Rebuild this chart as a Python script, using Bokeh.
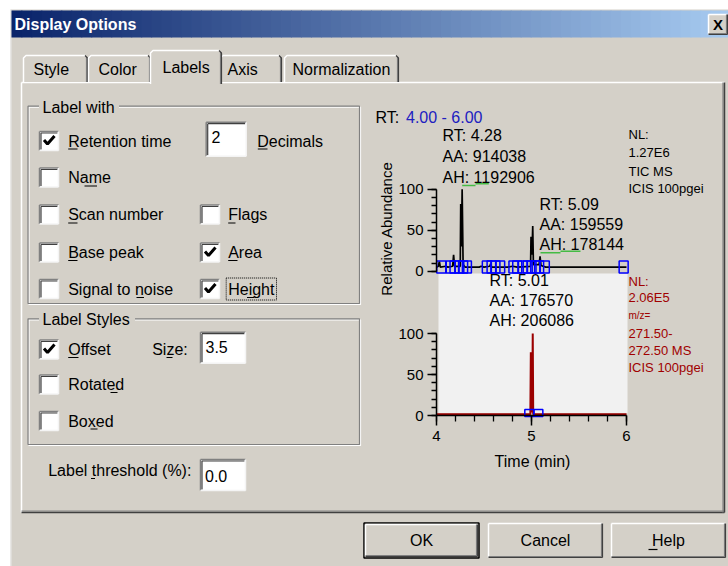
from math import pi
from bokeh.plotting import figure
from bokeh.models import Range1d, LinearAxis, FixedTicker
from bokeh.core.properties import value
from bokeh.embed import file_html
from bokeh.resources import INLINE

# ---------------- chromatogram data ----------------
top_time = [4.00, 4.02, 4.03, 4.04, 4.10, 4.12, 4.17, 4.18, 4.19, 4.25,
            4.255, 4.262, 4.27, 4.28, 4.30, 4.45, 4.47, 4.50, 4.56, 4.57,
            4.58, 4.75, 4.80, 4.85, 4.99, 4.995, 5.005, 5.013, 5.02, 5.08,
            5.09, 5.10, 5.15, 5.50, 6.00]
top_abund = [5, 6, 12, 5, 6, 5, 6, 20, 6, 6,
             82, 30, 100, 8, 5, 5, 6, 5, 6, 9,
             5, 5, 6, 5, 6, 42, 20, 55, 8, 8,
             18, 7, 5, 5, 5]
bottom_time = [4.00, 4.988, 4.993, 4.998, 5.008, 5.013, 5.018, 6.00]
bottom_abund = [1.5, 1.5, 77, 5, 5, 100, 1.5, 1.5]

top_marker_time = [4.05, 4.15, 4.19, 4.24, 4.28, 4.32, 4.53, 4.58, 4.62, 4.67,
                   4.81, 4.85, 4.91, 4.96, 5.00, 5.04, 5.08, 5.14, 5.97]
top_marker_abund = [5, 5, 5, 5, 5, 5, 5, 5, 5, 5, 5, 5, 5, 5, 5, 5, 5, 5, 5]
bottom_marker_time = [4.977, 5.072]
bottom_marker_abund = [3, 3]

time_ticks = [4, 5, 6]
time_minor = [4.0, 4.2, 4.4, 4.6, 4.8, 5.0, 5.2, 5.4, 5.6, 5.8, 6.0]
abund_ticks = [0, 50, 100]
abund_minor = [0, 10, 20, 30, 40, 50, 60, 70, 80, 90, 100]

range_label = ["RT:", "4.00 - 6.00"]
peak1_label = ["RT: 4.28", "AA: 914038", "AH: 1192906"]
peak2_label = ["RT: 5.09", "AA: 159559", "AH: 178144"]
peak3_label = ["RT: 5.01", "AA: 176570", "AH: 206086"]
top_info = ["NL:", "1.27E6", "TIC MS", "ICIS 100pgei"]
bottom_info = ["NL:", "2.06E5", "m/z=", "271.50-", "272.50 MS", "ICIS 100pgei"]
y_title = "Relative Abundance"
x_title = "Time (min)"

tab_names = ["Style", "Color", "Labels", "Axis", "Normalization"]
label_with_left = [("Retention time", True), ("Name", False), ("Scan number", False),
                   ("Base peak", False), ("Signal to noise", False)]
label_with_right = [("Flags", False), ("Area", True), ("Height", True)]
label_styles = [("Offset", True), ("Rotated", False), ("Boxed", False)]
decimals_value = "2"
size_value = "3.5"
threshold_value = "0.0"
buttons = ["OK", "Cancel", "Help"]

# ---------------- styles ----------------
BG = "#D4D0C8"
DARK = "#808080"
DDARK = "#404040"
WHITE = "#FFFFFF"
FONT = "Liberation Sans"

W, H = 728, 566
X0, Y0 = 0, 0
p = figure(width=W, height=H, x_range=Range1d(X0, X0 + W), y_range=Range1d(Y0 + H, Y0),
           x_axis_type=None, y_axis_type=None, output_backend="svg", toolbar_location=None,
           min_border=0, outline_line_color=None,
           background_fill_color="white", border_fill_color="white")


def span_range(v0, px0, v1, px1, lo, hi):
    k = (px1 - px0) / (v1 - v0)
    return Range1d(start=v0 + (lo - px0) / k, end=v0 + (hi - px0) / k)


p.extra_x_ranges = {"t": span_range(4, 436, 6, 626, X0, X0 + W)}
p.extra_y_ranges = {"a1": span_range(0, 270.7, 100, 188.7, Y0 + H, Y0),
                    "a2": span_range(0, 415, 100, 333, Y0 + H, Y0)}


def box(x0, y0, x1, y1, fill, line=None, lw=1, dash="solid"):
    p.quad(left=[x0], right=[x1], top=[y0], bottom=[y1], fill_color=fill,
           line_color=line, line_width=lw, line_dash=dash)


def seg(x0, y0, x1, y1, color, lw=1):
    p.segment(x0=[x0], y0=[y0], x1=[x1], y1=[y1], line_color=color, line_width=lw)


def txt(x, y, s, size="16px", color="black", align="left", bold=False, angle=0.0, font=FONT):
    p.text(x=[x], y=[y], text=[s], text_font=value(font), text_font_size=size,
           text_color=color, text_align=align, text_baseline="middle",
           text_font_style="bold" if bold else "normal", angle=angle)


def raised(x0, y0, x1, y1):
    box(x0, y0, x1, y1, BG)
    seg(x0, y0, x1, y0, WHITE, 1.5)
    seg(x0, y0, x0, y1, WHITE, 1.5)
    seg(x0, y1 - 1, x1, y1 - 1, DARK, 1.2)
    seg(x1 - 1, y0, x1 - 1, y1, DARK, 1.2)
    seg(x0, y1, x1, y1, DDARK, 1.2)
    seg(x1, y0, x1, y1, DDARK, 1.2)


def sunken(x0, y0, x1, y1):
    box(x0, y0, x1, y1, WHITE)
    seg(x0, y0, x1, y0, DARK, 1.5)
    seg(x0, y0, x0, y1, DARK, 1.5)
    seg(x0 + 1.5, y0 + 1.5, x1 - 1, y0 + 1.5, DDARK, 1.2)
    seg(x0 + 1.5, y0 + 1.5, x0 + 1.5, y1 - 1, DDARK, 1.2)
    seg(x0, y1, x1, y1, "#F4F4F4", 1.5)
    seg(x1, y0, x1, y1, "#F4F4F4", 1.5)


def checkbox(x0, yc, checked):
    sunken(x0, yc - 9.5, x0 + 19, yc + 9.5)
    if checked:
        p.line([x0 + 4.5, x0 + 8, x0 + 15], [yc - 1, yc + 3, yc - 5], line_color="black",
               line_width=3)


def groupbox(x0, y0, x1, y1, title, tw):
    p.quad(left=[x0 + 1], right=[x1 + 1], top=[y0 + 1], bottom=[y1 + 1], fill_color=None,
           line_color=WHITE, line_width=1.2)
    p.quad(left=[x0], right=[x1], top=[y0], bottom=[y1], fill_color=None,
           line_color=DARK, line_width=1.2)
    box(x0 + 11, y0 - 7, x0 + 11 + tw, y0 + 7, BG)
    txt(x0 + 14.5, y0 + 1, title)


def underline(x0, x1, y):
    seg(x0, y, x1, y, "black", 1.2)


# ---------------- dialog chrome ----------------
box(10, 9, 740, 580, BG)
seg(10.5, 9, 10.5, 580, "#E8E8E8", 1)
n = 72
c0, c1 = (10, 36, 106), (166, 202, 240)
gx = [11 + (730 - 11) * i / n for i in range(n + 1)]
gcols = ["#%02x%02x%02x" % tuple(int(round(a + (b - a) * i / (n - 1))) for a, b in zip(c0, c1))
         for i in range(n)]
p.quad(left=gx[:-1], right=[g + 0.8 for g in gx[1:]], top=[10] * n, bottom=[37] * n,
       fill_color=gcols, line_color=None)
txt(14, 24, "Display Options", size="16px", color="white", bold=True)
raised(708, 14, 727, 34)
txt(717.5, 24, "X", size="15px", bold=True, align="center")

# tab panel
seg(21, 82, 724, 82, WHITE, 1.5)
seg(21, 82, 21, 512, WHITE, 1.5)
seg(21, 510.5, 724, 510.5, DARK, 1.2)
seg(21, 512, 724, 512, DDARK, 1.5)
seg(722.5, 82, 722.5, 512, DARK, 1.2)
seg(724, 82, 724, 512, DDARK, 1.5)


def tab(x0, x1, top, bottom, label, lx, ly):
    box(x0, top, x1, bottom, BG)
    p.line([x0, x0, x0 + 2.5, x1 - 2.5], [bottom, top + 2.5, top, top], line_color=WHITE,
           line_width=1.5)
    p.line([x1 - 1, x1 - 1], [top + 1.5, bottom], line_color=DARK, line_width=1.2)
    p.line([x1 - 2.5, x1, x1], [top, top + 2.5, bottom], line_color=DDARK, line_width=1.2)
    txt(lx, ly, label)


tab(23, 87, 55, 81.5, tab_names[0], 33, 69)
tab(88, 150, 55, 81.5, tab_names[1], 98, 69)
tab(220, 281, 55, 81.5, tab_names[3], 227, 69)
tab(284, 398, 55, 81.5, tab_names[4], 292, 69)
tab(150, 221, 50, 83.5, tab_names[2], 162, 66.5)

# Label with group
groupbox(27.5, 105.7, 359, 303, "Label with", 80)
left_rows = [140.5, 177, 214, 252, 288.5]
for (name, chk), yc in zip(label_with_left, left_rows):
    checkbox(39, yc, chk)
    txt(67.7, yc, name)
for (name, chk), yc in zip(label_with_right, left_rows[2:]):
    checkbox(200, yc, chk)
    txt(227.7, yc, name)
p.quad(left=[225.7], right=[276], top=[277.5], bottom=[299.5], fill_color=None,
       line_color="black", line_width=1, line_dash="1 1")
sunken(205.7, 121.7, 245.7, 155.7)
txt(211, 136.5, decimals_value)
txt(256.7, 140.5, "Decimals")

# Label Styles group
groupbox(27.5, 318.3, 359, 444, "Label Styles", 96)
style_rows = [349, 384, 420.5]
for (name, chk), yc in zip(label_styles, style_rows):
    checkbox(39, yc, chk)
    txt(67.7, yc, name)
txt(151.7, 349, "Size:")
sunken(200, 331.7, 245, 362.7)
txt(205, 346.5, size_value)

txt(47.7, 470, "Label threshold (%):")
sunken(200, 459, 245, 490)
txt(204.5, 475, threshold_value)

# mnemonic underlines
for x0, x1, y in [(67.7, 77, 148.5), (84, 96.5, 185.5), (67.7, 77, 222.5), (67.7, 77, 260),
                  (136, 143.5, 297), (257.3, 267, 148.5), (227.7, 235, 222.5),
                  (227.7, 237, 260), (246.5, 254, 297), (67.7, 78, 357), (166, 172, 357),
                  (110, 117, 392), (90, 97, 428.5), (90.5, 94.5, 478)]:
    underline(x0, x1, y)

# buttons
box(363.5, 522.5, 478.5, 557.5, None, "black", 1.5)
raised(365, 524, 477, 556)
raised(488, 523, 602, 557)
raised(611, 523, 725, 557)
txt(421, 540, buttons[0], align="center")
txt(545, 540, buttons[1], align="center")
txt(668, 540, buttons[2], align="center")
underline(648, 657, 549)

# ---------------- chromatogram ----------------
box(438, 273, 627, 413, "#F1F1F1")

p.line(top_time, top_abund, x_range_name="t", y_range_name="a1", line_color="black",
       line_width=1.7)
p.rect(x=top_marker_time, y=top_marker_abund, width=9, height=12, width_units="screen",
       height_units="screen", x_range_name="t", y_range_name="a1", fill_color=None,
       line_color="#0000FF", line_width=1.5)

p.line(bottom_time, bottom_abund, x_range_name="t", y_range_name="a2", line_color="#9B0000",
       line_width=2.0)
p.rect(x=bottom_marker_time, y=bottom_marker_abund, width=9, height=7, width_units="screen",
       height_units="screen", x_range_name="t", y_range_name="a2", fill_color=None,
       line_color="#0000FF", line_width=1.5)


def style_axis(ax, tick_out, minor_out):
    ax.axis_line_color = "black"
    ax.axis_line_width = 1.5
    ax.major_tick_line_color = "black"
    ax.major_tick_line_width = 1.5
    ax.minor_tick_line_color = "black"
    ax.minor_tick_line_width = 1.3
    ax.major_tick_in = 0
    ax.major_tick_out = tick_out
    ax.minor_tick_in = 0
    ax.minor_tick_out = minor_out
    ax.major_label_text_font = FONT
    ax.major_label_text_font_size = "15px"
    ax.major_label_text_color = "black"
    ax.major_label_standoff = 4


ay1 = LinearAxis(x_range_name="t", y_range_name="a1", fixed_location=4, bounds=(0, 100),
                 ticker=FixedTicker(ticks=abund_ticks, minor_ticks=abund_minor))
style_axis(ay1, 9, 5)
p.add_layout(ay1, "left")
ay2 = LinearAxis(x_range_name="t", y_range_name="a2", fixed_location=4, bounds=(0, 100),
                 ticker=FixedTicker(ticks=abund_ticks, minor_ticks=abund_minor))
style_axis(ay2, 9, 5)
p.add_layout(ay2, "left")
ax2 = LinearAxis(x_range_name="t", y_range_name="a2", fixed_location=0, bounds=(4, 6),
                 ticker=FixedTicker(ticks=time_ticks, minor_ticks=time_minor))
style_axis(ax2, 10, 6)
ax2.major_label_standoff = 5
p.add_layout(ax2, "below")

# chart texts
txt(375, 117, range_label[0])
txt(405.5, 117, range_label[1], color="#2020C0")
for i, s in enumerate(peak1_label):
    txt(442, 135 + 20.8 * i, s)
for i, s in enumerate(peak2_label):
    txt(539, 203.5 + 20.3 * i, s)
for i, s in enumerate(peak3_label):
    txt(489, 280 + 20 * i, s)
for i, s in enumerate(top_info):
    txt(628, [134.3, 151.7, 171, 188.3][i], s, size="13px")
for i, s in enumerate(bottom_info):
    txt(628, [281, 297, 315, 332.7, 350, 366.7][i], s,
        size="10px" if s == "m/z=" else "13px", color="#A00000")
seg(461.7, 185, 475, 185, "#44BB44", 1.5)
seg(475, 183.3, 488.3, 183.3, "#44BB44", 1.5)
seg(540, 252.3, 560, 252.3, "#44BB44", 1.5)
seg(560, 250.7, 580, 250.7, "#44BB44", 1.5)
txt(386, 228, y_title, size="15px", align="center", angle=pi / 2)
txt(532, 460.7, x_title, size="16px", align="center")

open("out.html", "w").write(file_html(p, INLINE))
